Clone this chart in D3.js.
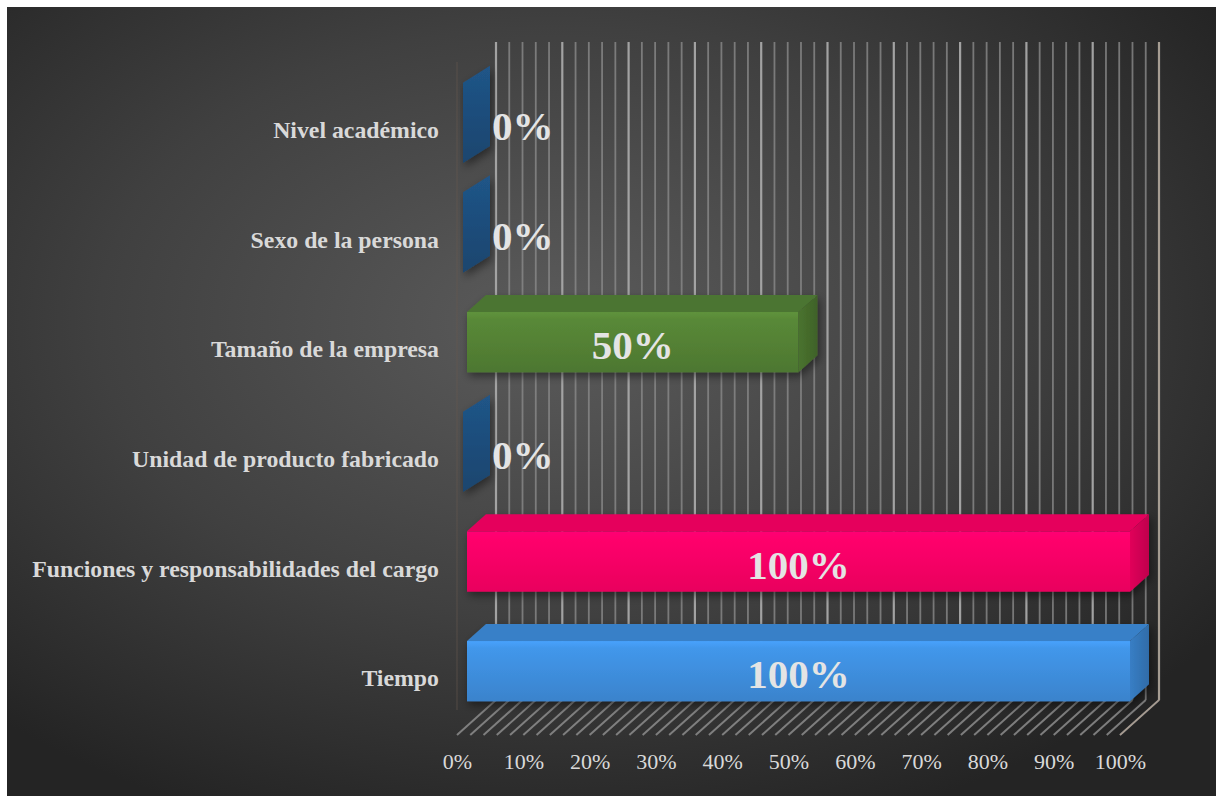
<!DOCTYPE html>
<html>
<head>
<meta charset="utf-8">
<script src="https://cdn.jsdelivr.net/npm/d3@7/dist/d3.min.js"></script>
<style>
  html, body { margin: 0; padding: 0; background: #ffffff; }
  svg { display: block; }
</style>
</head>
<body>
<svg id="chart" width="1222" height="796"></svg>
<script>
// Factors and the share of answers for each one (top to bottom)
const categories = [
  "Nivel académico",
  "Sexo de la persona",
  "Tamaño de la empresa",
  "Unidad de producto fabricado",
  "Funciones y responsabilidades del cargo",
  "Tiempo"
];
const values = [0, 0, 0.5, 0, 1, 1];
const barColors = ["#1f5283", "#1f5283", "#548235", "#1f5283", "#ff0066", "#3f8fdf"];
const tickValues = [0, 0.1, 0.2, 0.3, 0.4, 0.5, 0.6, 0.7, 0.8, 0.9, 1];
const tickLabels = ["0%", "10%", "20%", "30%", "40%", "50%", "60%", "70%", "80%", "90%", "100%"];
const gridStep = 0.02;

const svg = d3.select("#chart");

// Oblique projection: the full depth of the plot moves right and up
const depth = { dx: 39, dy: -35 };
const barDepth = { front: 10 / 39, back: 29 / 39 };
const wallTop = 42;

const x = d3.scaleLinear().domain([0, 1]).range([457, 1120]);
const y = d3.scaleBand().domain(categories).range([77, 735]).padding(0);
const barH = y.bandwidth() * 0.55;
const floorFront = y.range()[1];
const floorBack = floorFront + depth.dy;

const defs = svg.append("defs");

// Background
const bg = defs.append("radialGradient").attr("id", "bg")
  .attr("cx", "45%").attr("cy", "40%").attr("r", "68%");
bg.append("stop").attr("offset", "0%").attr("stop-color", "#5b5b5b");
bg.append("stop").attr("offset", "55%").attr("stop-color", "#404040");
bg.append("stop").attr("offset", "100%").attr("stop-color", "#242424");

svg.append("rect").attr("x", 7).attr("y", 7).attr("width", 1209).attr("height", 789)
  .attr("fill", "url(#bg)");

const shadow = defs.append("filter").attr("id", "shadow")
  .attr("x", "-10%").attr("y", "-20%").attr("width", "130%").attr("height", "160%");
shadow.append("feDropShadow").attr("dx", 2).attr("dy", 4).attr("stdDeviation", 4)
  .attr("flood-color", "#000").attr("flood-opacity", 0.45);

const soft = defs.append("filter").attr("id", "soft");
soft.append("feGaussianBlur").attr("stdDeviation", 0.6);

// Back wall and floor gridlines
const gridVals = d3.range(0, 1 + gridStep / 2, gridStep);
const isMajor = v => Math.abs(v * 10 - Math.round(v * 10)) < 1e-6;
const grid = svg.append("g").attr("filter", "url(#soft)");

grid.selectAll("line.wall").data(gridVals).join("line")
  .attr("class", "wall")
  .attr("x1", d => x(d) + depth.dx).attr("x2", d => x(d) + depth.dx)
  .attr("y1", wallTop).attr("y2", floorBack)
  .attr("stroke", d => isMajor(d) ? "#a8a8a8" : "#8a8a8a")
  .attr("stroke-width", d => isMajor(d) ? 2.2 : 1.8)
  .attr("stroke-opacity", d => isMajor(d) ? 0.95 : 0.8);

grid.selectAll("line.floor").data(gridVals).join("line")
  .attr("class", "floor")
  .attr("x1", d => x(d) + depth.dx).attr("y1", floorBack)
  .attr("x2", d => x(d)).attr("y2", floorFront)
  .attr("stroke", "#8c8c8c").attr("stroke-width", 2).attr("stroke-opacity", 0.85);

// Right wall edge and floor corner
grid.append("path")
  .attr("d", `M${x(1) + depth.dx},${wallTop} L${x(1) + depth.dx},${floorBack} L${x(1)},${floorFront}`)
  .attr("fill", "none").attr("stroke", "#a89c90").attr("stroke-width", 1.6);

// Faint front edge of the category axis
svg.append("line")
  .attr("x1", x(0)).attr("x2", x(0))
  .attr("y1", y.range()[0] - 15).attr("y2", floorFront - 25)
  .attr("stroke", "#6a5a50").attr("stroke-width", 1.2).attr("stroke-opacity", 0.5);

// 3D bars
const bd = {
  fx: depth.dx * barDepth.front, fy: depth.dy * barDepth.front,
  bx: depth.dx * (barDepth.back - barDepth.front), by: depth.dy * (barDepth.back - barDepth.front)
};

const rows = categories.map((c, i) => ({ c, v: values[i], color: barColors[i], i }));

rows.forEach(r => {
  const base = d3.color(r.color);
  const g = defs.append("linearGradient").attr("id", "front" + r.i)
    .attr("x1", 0).attr("y1", 0).attr("x2", 0).attr("y2", 1);
  g.append("stop").attr("offset", "0%").attr("stop-color", base.brighter(0.35));
  g.append("stop").attr("offset", "12%").attr("stop-color", base.brighter(0.15));
  g.append("stop").attr("offset", "100%").attr("stop-color", base.darker(0.25));
  const s = defs.append("linearGradient").attr("id", "side" + r.i)
    .attr("x1", 0).attr("y1", 0).attr("x2", 1).attr("y2", 0);
  s.append("stop").attr("offset", "0%").attr("stop-color", base.darker(0.35));
  s.append("stop").attr("offset", "100%").attr("stop-color", base.darker(0.8));
  const z = defs.append("linearGradient").attr("id", "end" + r.i)
    .attr("x1", 0).attr("y1", 0).attr("x2", 0).attr("y2", 1);
  z.append("stop").attr("offset", "0%").attr("stop-color", base.brighter(0.1));
  z.append("stop").attr("offset", "100%").attr("stop-color", base.darker(0.5));
});

const bars = svg.append("g").selectAll("g.bar").data(rows).join("g")
  .attr("class", "bar").attr("filter", "url(#shadow)");

bars.each(function (r) {
  const g = d3.select(this);
  const cy = y(r.c) + y.bandwidth() / 2 + bd.fy;
  const top = cy - barH / 2, bot = cy + barH / 2;
  const x0 = x(0) + bd.fx, x1 = x(r.v) + bd.fx;
  const base = d3.color(r.color);

  if (r.v > 0) {
    g.append("rect").attr("x", x0).attr("y", top).attr("width", x1 - x0).attr("height", barH)
      .attr("fill", `url(#front${r.i})`);
    g.append("path")
      .attr("d", `M${x0},${top} L${x1},${top} L${x1 + bd.bx},${top + bd.by} L${x0 + bd.bx},${top + bd.by} Z`)
      .attr("fill", base.darker(0.3));
    g.append("path")
      .attr("d", `M${x1},${top} L${x1 + bd.bx},${top + bd.by} L${x1 + bd.bx},${bot + bd.by} L${x1},${bot} Z`)
      .attr("fill", `url(#side${r.i})`);
  } else {
    // a zero-length bar shows only its end cap, seen slightly widened by the bevel
    const w = 4, ext = 10;
    g.append("path")
      .attr("d", `M${x1 - w},${top - ext} L${x1 + bd.bx + w},${top + bd.by - ext} ` +
                 `L${x1 + bd.bx + w},${bot + bd.by + ext} L${x1 - w},${bot + ext} Z`)
      .attr("fill", `url(#end${r.i})`);
  }
});

// Data labels
svg.append("g").selectAll("text").data(rows).join("text")
  .attr("x", r => r.v > 0 ? (x(0) + x(r.v)) / 2 + bd.fx : x(0) + bd.fx + bd.bx + 6)
  .attr("y", r => y(r.c) + y.bandwidth() / 2 + 8)
  .attr("text-anchor", r => r.v > 0 ? "middle" : "start")
  .attr("font-family", "'Liberation Serif', 'Times New Roman', serif")
  .attr("font-weight", "bold").attr("font-size", 41)
  .attr("fill", "#e4e4e4")
  .text(r => d3.format(".0%")(r.v));

// Category labels
svg.append("g").selectAll("text").data(categories).join("text")
  .attr("x", 439)
  .attr("y", c => y(c) + y.bandwidth() / 2 + 6)
  .attr("text-anchor", "end")
  .attr("font-family", "'Liberation Serif', 'Times New Roman', serif")
  .attr("font-weight", "bold").attr("font-size", 23.8)
  .attr("fill", "#d9d9d9")
  .text(c => c);

// Value axis labels along the front edge of the floor
const axis = d3.axisBottom(x).tickValues(tickValues)
  .tickFormat((d, i) => tickLabels[i]).tickSize(0).tickPadding(0);
const ax = svg.append("g").attr("transform", `translate(0,${floorFront + 18})`).call(axis);
ax.select(".domain").remove();
ax.selectAll("text")
  .attr("font-family", "'Liberation Serif', 'Times New Roman', serif")
  .attr("font-size", 22).attr("fill", "#d9d9d9");
</script>
</body>
</html>
